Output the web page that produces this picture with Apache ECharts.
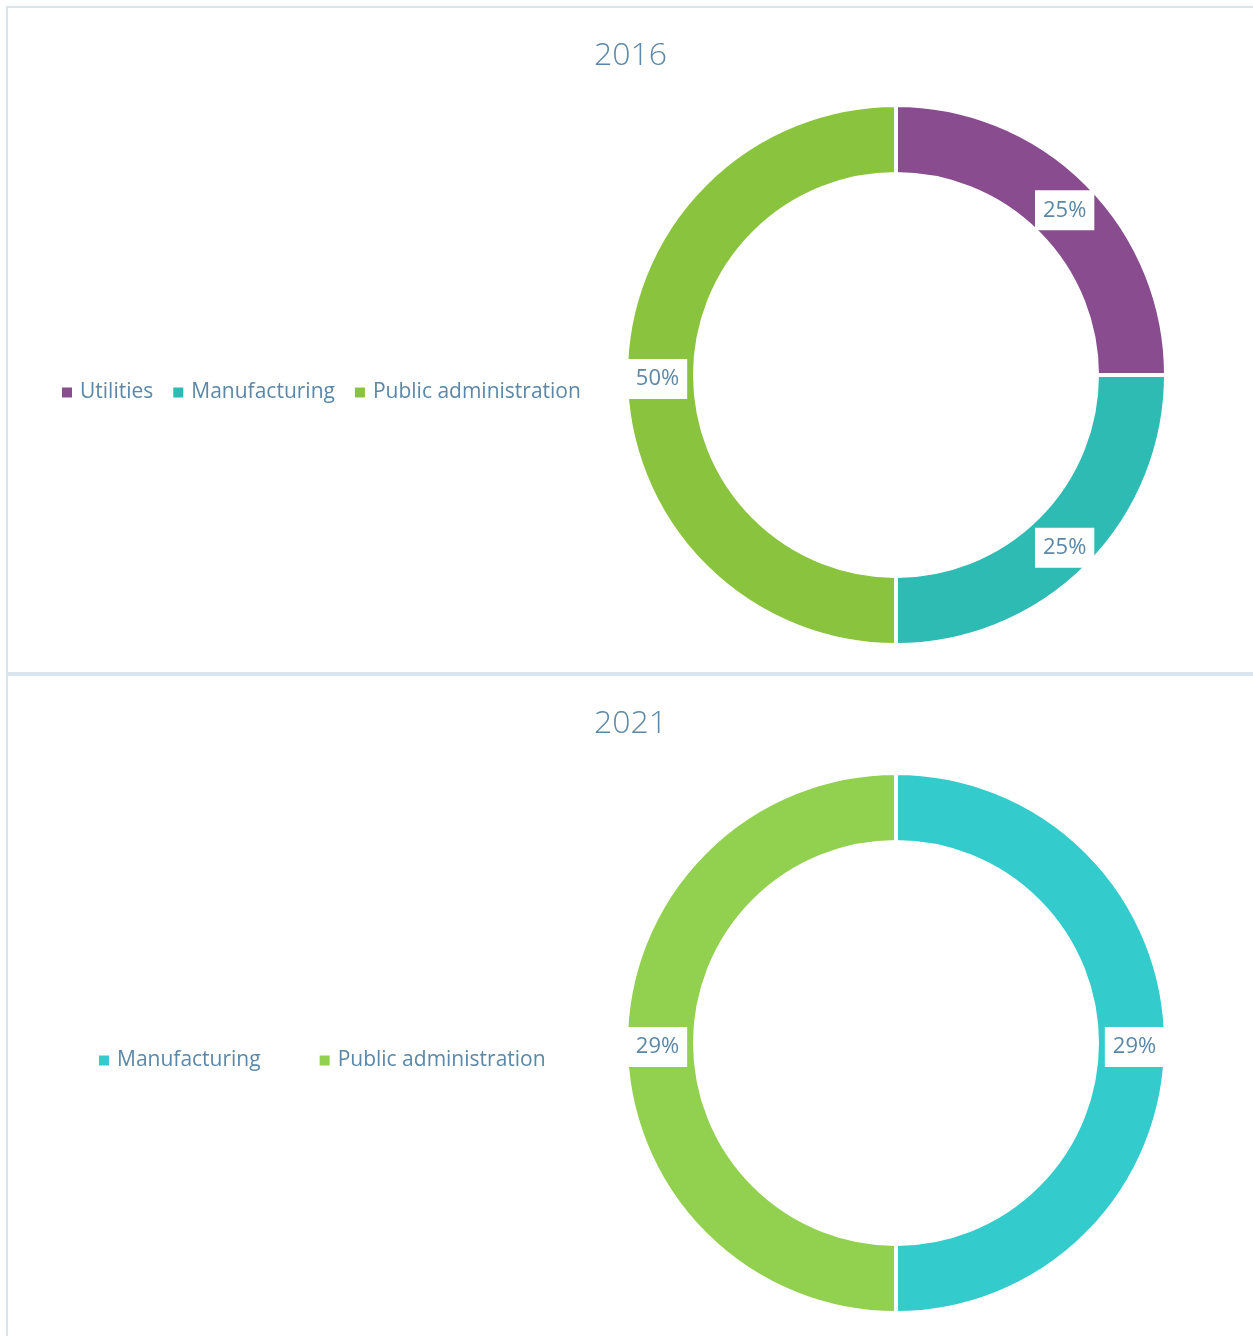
<!DOCTYPE html>
<html>
<head>
<meta charset="utf-8">
<script src="https://cdn.jsdelivr.net/npm/echarts@6/dist/echarts.min.js"></script>
<style>
  html, body { margin: 0; padding: 0; background: #fff; }
  body { width: 1253px; height: 1336px; position: relative; overflow: hidden; }
  .frame { position: absolute; left: 6px; top: 6px; right: 0; bottom: 0;
           border-left: 2px solid #d8e5ef; border-top: 2px solid #d8e5ef; }
  .sep { position: absolute; left: 8px; right: 0; top: 672px; height: 4px; background: #d8e5ef; }
  #chart1 { position: absolute; left: 8px; top: 8px; width: 1245px; height: 664px; }
  #chart2 { position: absolute; left: 8px; top: 676px; width: 1245px; height: 660px; }
</style>
</head>
<body>
<div class="frame"></div>
<div class="sep"></div>
<div id="chart1"></div>
<div id="chart2"></div>
<script>
  // 2016 数据
  var names2016 = ["Utilities", "Manufacturing", "Public administration"];
  var values2016 = [25, 25, 50];
  var colors2016 = ["#884c8f", "#2dbbb4", "#8ac43f"];

  // 2021 数据
  var names2021 = ["Manufacturing", "Public administration"];
  var values2021 = [29, 29];
  var colors2021 = ["#33cbcc", "#92d150"];

  var textColor = "#5b88a8";
  var fontFamily = "'Open Sans', 'Noto Sans', sans-serif";

  function buildOption(year, names, values, colors, legendLeft, legendGap) {
    var data = [];
    for (var i = 0; i < names.length; i++) {
      data.push({ name: names[i], value: values[i] });
    }
    return {
      animation: false,
      color: colors,
      title: {
        text: year,
        left: "center",
        top: 27,
        textStyle: {
          color: textColor,
          fontSize: 32,
          fontWeight: 300,
          fontFamily: fontFamily,
        },
      },
      legend: {
        orient: "horizontal",
        left: legendLeft,
        top: 369,
        itemWidth: 10,
        itemHeight: 10,
        itemGap: legendGap,
        icon: "rect",
        data: names,
        // 图例图标不要白色描边
        itemStyle: { borderWidth: 0 },
        textStyle: {
          color: textColor,
          fontSize: 21,
          fontFamily: fontFamily,
          padding: [0, 0, 0, 3],
        },
      },
      series: [
        {
          type: "pie",
          center: [888, 367],
          radius: [201, 270],
          startAngle: 90,
          clockwise: true,
          avoidLabelOverlap: false,
          itemStyle: {
            borderColor: "#fff",
            borderWidth: 4,
          },
          label: {
            show: true,
            position: "inside",
            formatter: "{c}%",
            color: textColor,
            fontSize: 22,
            fontFamily: fontFamily,
            backgroundColor: "#fff",
            padding: [9, 8, 9, 8],
            offset: [0, 4],
          },
          labelLine: { show: false },
          emphasis: { scale: false },
          data: data,
        },
      ],
    };
  }

  var chart1 = echarts.init(document.getElementById("chart1"));
  chart1.setOption(buildOption("2016", names2016, values2016, colors2016, 49, 20));

  var chart2 = echarts.init(document.getElementById("chart2"));
  chart2.setOption(buildOption("2021", names2021, values2021, colors2021, 86, 59));
</script>
</body>
</html>
